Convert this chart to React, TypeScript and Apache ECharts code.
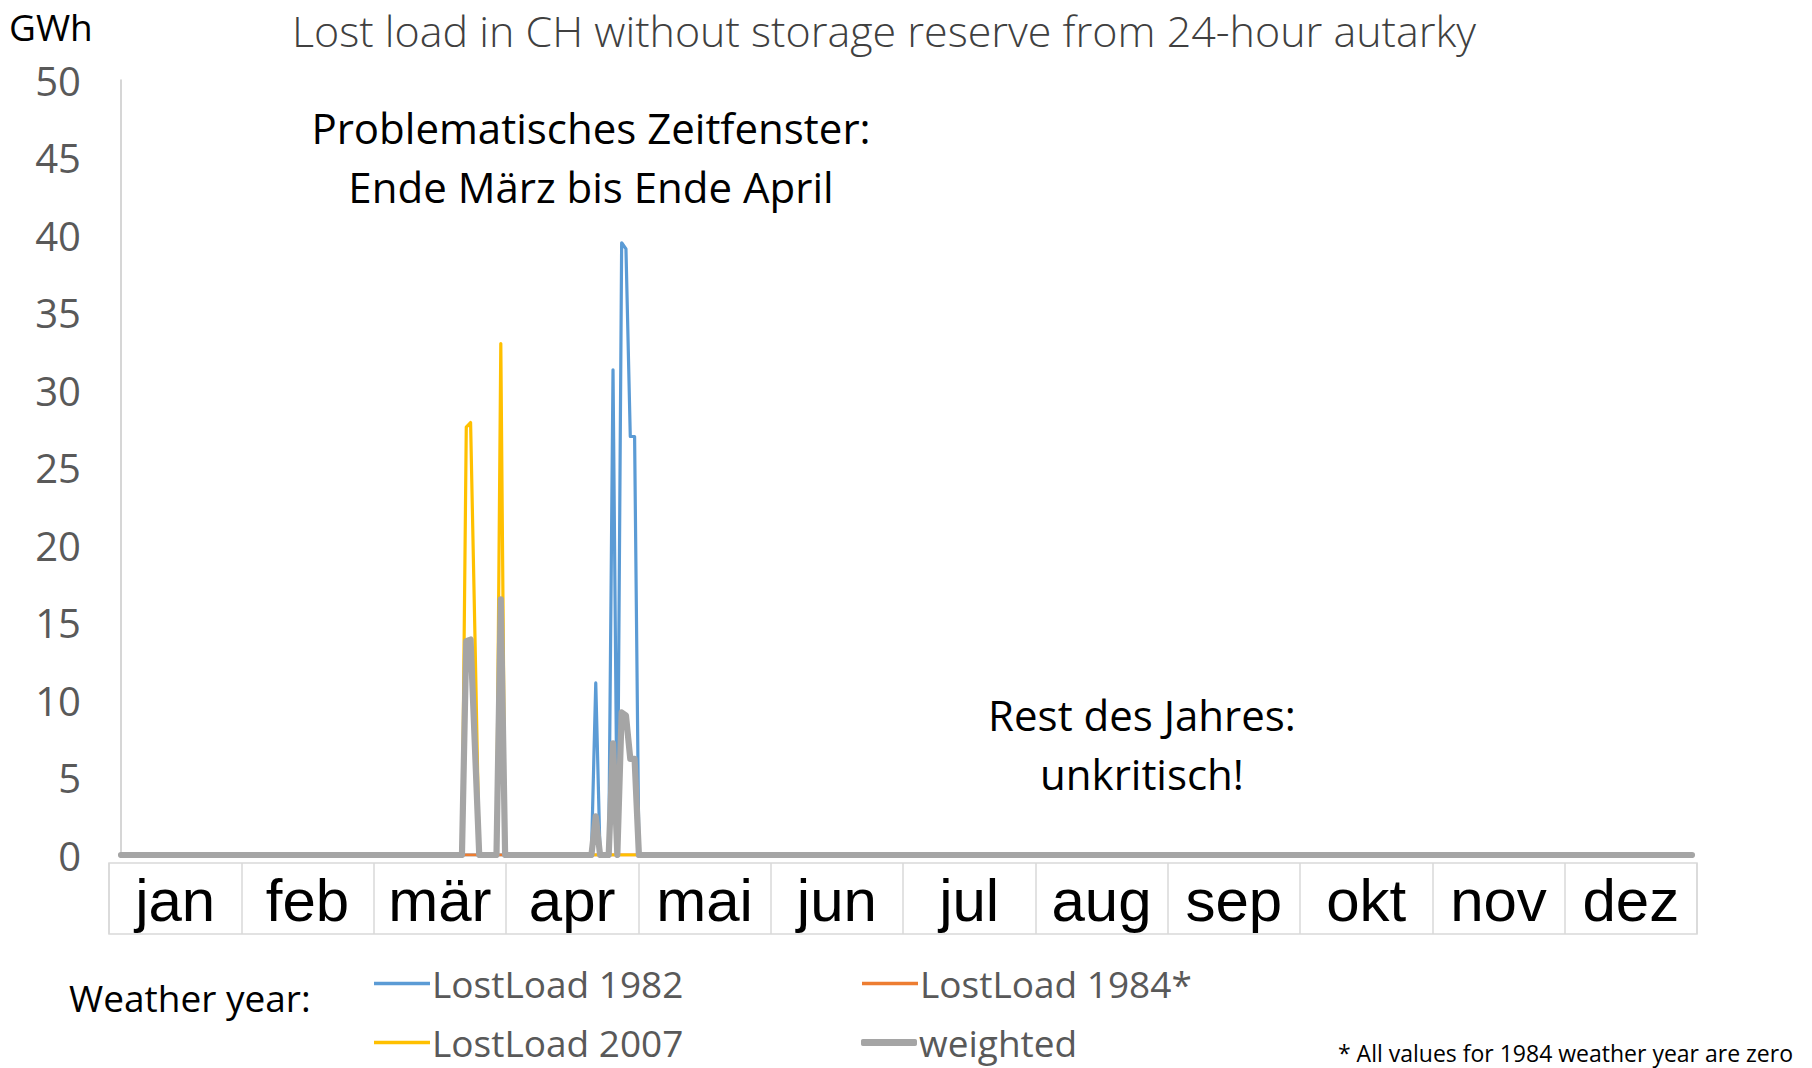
import React, { useEffect, useRef } from "react";
import * as echarts from "echarts";

// ---- data -------------------------------------------------------------
const MONTHS = ["jan", "feb", "mär", "apr", "mai", "jun", "jul", "aug", "sep", "okt", "nov", "dez"];
const DAYS_IN_YEAR = 365; // daily values, day 0 = 1 January

// Non-zero daily lost load (GWh); every other day of the year reads 0
const days1982 = [110, 114, 116, 117, 118, 119];
const lostLoad1982 = [11.1, 31.3, 39.5, 39.1, 27.0, 27.0];

const days1984: number[] = [];
const lostLoad1984: number[] = [];

const days2007 = [80, 81, 82, 88];
const lostLoad2007 = [27.6, 27.9, 14.3, 33.0];

const daysWeighted = [80, 81, 82, 88, 110, 114, 116, 117, 118, 119];
const lostLoadWeighted = [13.8, 13.9, 7.0, 16.5, 2.5, 7.2, 9.2, 9.0, 6.2, 6.2];

const Y_MIN = 0;
const Y_MAX = 50;
const Y_INTERVAL = 5;

const SERIES_NAMES = ["LostLoad 1982", "LostLoad 1984*", "LostLoad 2007", "weighted"];
const SERIES_COLORS = ["#5B9BD5", "#ED7D31", "#FFC000", "#A5A5A5"];

// ---- helpers ----------------------------------------------------------
function yearSeries(days: number[], values: number[]): number[] {
  const arr: number[] = new Array(DAYS_IN_YEAR).fill(0);
  days.forEach((d, i) => {
    arr[d] = values[i];
  });
  return arr;
}

const dayLabels = Array.from({ length: DAYS_IN_YEAR }, (_, i) => String(i + 1));

const FONT = "'Open Sans', 'Noto Sans', sans-serif";
const ARIAL = "'Liberation Sans', Arial, sans-serif";

function txt(text: string, x: number, y: number, fontSize: number, align: string, color = "#000", weight: any = "normal") {
  return {
    type: "text",
    x,
    y,
    silent: true,
    style: {
      text,
      fontSize,
      fontFamily: FONT,
      fontWeight: weight,
      fill: color,
      textAlign: align,
      textVerticalAlign: "middle",
      align,
      verticalAlign: "middle",
    },
  };
}

export default function App() {
  const ref = useRef<HTMLDivElement>(null);

  useEffect(() => {
    if (!ref.current) return;
    const chart = echarts.init(ref.current, undefined, { renderer: "svg" });

    const lineSeries = (name: string, color: string, data: number[], width: number, z: number) => ({
      type: "line",
      name,
      xAxisIndex: 0,
      yAxisIndex: 0,
      data,
      showSymbol: false,
      symbol: "none",
      z,
      color,
      lineStyle: { color, width, cap: "round", join: "round" },
      emphasis: { disabled: true },
    });

    const legendCommon = {
      orient: "horizontal",
      padding: 0,
      itemWidth: 56,
      selectedMode: false,
      textStyle: {
        fontSize: 37,
        color: "#595959",
        fontFamily: FONT,
        lineHeight: 38,
        padding: [0, 0, 0, -3],
      },
    };

    const option: any = {
      animation: false,
      backgroundColor: "#ffffff",
      textStyle: { fontFamily: FONT },
      grid: [
        { left: 121, right: 120, top: 80, height: 775, outerBoundsMode: "none" },
        {
          left: 109,
          right: 115,
          top: 863,
          height: 71,
          show: true,
          borderColor: "#d9d9d9",
          borderWidth: 1.5,
          backgroundColor: "transparent",
          outerBoundsMode: "none",
        },
      ],
      xAxis: [
        { type: "category", gridIndex: 0, data: dayLabels, boundaryGap: false, show: false },
        {
          type: "category",
          gridIndex: 1,
          data: MONTHS,
          position: "top",
          boundaryGap: true,
          axisLine: { show: false },
          axisTick: { show: false },
          splitLine: { show: true, interval: 0, lineStyle: { color: "#d9d9d9", width: 1.5 } },
          axisLabel: {
            interval: 0,
            inside: true,
            margin: 37,
            verticalAlign: "middle",
            fontSize: 60,
            fontFamily: ARIAL,
            color: "#000000",
          },
        },
      ],
      yAxis: [
        {
          type: "value",
          gridIndex: 0,
          min: Y_MIN,
          max: Y_MAX,
          interval: Y_INTERVAL,
          axisLine: { show: true, lineStyle: { color: "#c8c8c8", width: 1.5 } },
          axisTick: { show: false },
          splitLine: { show: false },
          axisLabel: { margin: 40, fontSize: 40, color: "#595959", fontFamily: FONT },
        },
        { type: "value", gridIndex: 1, show: false },
      ],
      legend: [
        { ...legendCommon, data: [SERIES_NAMES[0]], left: 374, top: 964.5, icon: "rect", itemHeight: 3.5 },
        { ...legendCommon, data: [SERIES_NAMES[2]], left: 374, top: 1023.5, icon: "rect", itemHeight: 3.5 },
        { ...legendCommon, data: [SERIES_NAMES[1]], left: 862, top: 964.5, icon: "rect", itemHeight: 3.5 },
        { ...legendCommon, data: [SERIES_NAMES[3]], left: 861, top: 1023.5, icon: "roundRect", itemHeight: 7 },
      ],
      series: [
        lineSeries(SERIES_NAMES[0], SERIES_COLORS[0], yearSeries(days1982, lostLoad1982), 3.2, 2),
        lineSeries(SERIES_NAMES[1], SERIES_COLORS[1], yearSeries(days1984, lostLoad1984), 3.2, 3),
        lineSeries(SERIES_NAMES[2], SERIES_COLORS[2], yearSeries(days2007, lostLoad2007), 3.2, 4),
        lineSeries(SERIES_NAMES[3], SERIES_COLORS[3], yearSeries(daysWeighted, lostLoadWeighted), 6.2, 5),
      ],
      graphic: [
        txt("Lost load in CH without storage reserve from 24-hour autarky", 884, 30, 43, "center", "#404040", 300),
        txt("GWh", 9, 26, 37, "left", "#000000"),
        txt("Problematisches Zeitfenster:", 591, 127, 42, "center"),
        txt("Ende März bis Ende April", 591, 186, 42, "center"),
        txt("Rest des Jahres:", 1142, 714, 42, "center"),
        txt("unkritisch!", 1142, 773, 42, "center"),
        txt("Weather year:", 69, 997, 37, "left"),
        txt("* All values for 1984 weather year are zero", 1793, 1053, 23, "right"),
      ],
    };

    chart.setOption(option);
    return () => chart.dispose();
  }, []);

  return (
    <div
      ref={ref}
      style={{ position: "absolute", left: 0, top: 0, width: 1812, height: 1068, background: "#fff" }}
    />
  );
}
